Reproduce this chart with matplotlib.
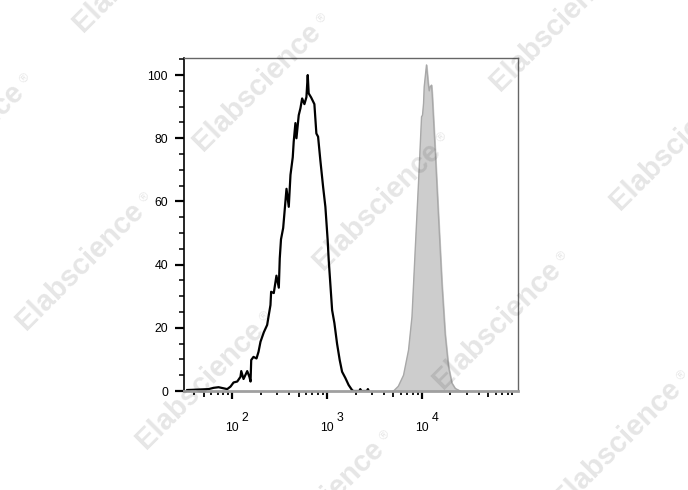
import numpy as np
import matplotlib
matplotlib.use("Agg")
import matplotlib.pyplot as plt
from matplotlib.ticker import FixedLocator, FixedFormatter, MultipleLocator
from matplotlib.transforms import offset_copy

plt.rcParams['font.family'] = ['Liberation Sans', 'DejaVu Sans']

# isotype / unstained control (black outline), x given as decades
black_log = [1.526, 1.751, 1.803, 1.856, 1.947, 1.982, 2.014, 2.053, 2.087, 2.095,
             2.119, 2.158, 2.182, 2.193, 2.200, 2.224, 2.256, 2.277, 2.298, 2.333,
             2.368, 2.385, 2.403, 2.410, 2.438, 2.466, 2.491, 2.501, 2.514, 2.537,
             2.572, 2.596, 2.614, 2.638, 2.648, 2.666, 2.677, 2.701, 2.719, 2.737,
             2.761, 2.782, 2.796, 2.806, 2.832, 2.866, 2.887, 2.905, 2.929, 2.958,
             2.982, 3.006, 3.017, 3.053, 3.077, 3.105, 3.133, 3.158, 3.193, 3.227,
             3.263, 3.277, 3.340, 3.350, 3.360, 3.420, 3.430, 3.440]
black_val = [0.3, 0.6, 1.0, 1.2, 0.6, 1.4, 2.7, 3.0, 4.5, 6.3,
             3.8, 6.3, 4.4, 3.0, 9.8, 10.8, 10.3, 12.4, 15.6, 18.6,
             20.9, 24.0, 27.2, 31.4, 31.0, 36.5, 32.7, 42.0, 48.0, 51.6,
             64.0, 58.3, 68.4, 74.0, 78.9, 84.8, 80.0, 87.3, 89.5, 92.6,
             90.8, 93.0, 100.0, 94.2, 92.9, 90.8, 81.5, 80.5, 73.0, 64.6,
             58.3, 47.8, 41.5, 25.6, 21.5, 15.0, 9.8, 6.1, 4.1, 1.9,
             0.3, 0.0, 0.0, 0.6, 0.0, 0.0, 0.6, 0.0]

# stained sample (grey filled)
gray_log = [3.701, 3.751, 3.806, 3.859, 3.895, 3.929, 3.964, 3.996, 4.006, 4.017,
            4.024, 4.048, 4.066, 4.077, 4.087, 4.101, 4.108, 4.140, 4.175, 4.211,
            4.245, 4.280, 4.316, 4.351, 4.403]
gray_val = [0.0, 1.5, 5.0, 13.0, 23.5, 44.6, 66.0, 86.8, 87.3, 91.0,
            96.3, 103.2, 97.4, 95.0, 96.3, 96.8, 94.0, 76.0, 55.0, 34.0,
            18.0, 7.7, 2.5, 0.8, 0.0]

x_major = [1e2, 1e3, 1e4]
x_exponents = ['2', '3', '4']
y_ticks = [0, 20, 40, 60, 80, 100]

W, H = 688, 490
fig = plt.figure(figsize=(W / 100, H / 100), dpi=100)
ax = fig.add_axes([184 / W, 1 - 391 / H, 334 / W, 333 / H])

# watermark lattice (pixel positions of text centres)
wm = dict(color='#000000', alpha=0.1, rotation=45, ha='center', va='center',
          rotation_mode='anchor', zorder=0)
for i in range(-3, 5):
    for j in range(-2, 4):
        cx = 257 + 120 * i + 297 * j
        cy = 87 + 119 * i - 60 * j
        if -120 < cx < W + 120 and -120 < cy < H + 120:
            fig.text(cx / W, 1 - cy / H, 'Elabscience', fontsize=21,
                     fontweight='bold', **wm)
            fig.text((cx + 65) / W, 1 - (cy - 68) / H, '®', fontsize=9, **wm)

ax.patch.set_alpha(0)
gx = 10 ** np.array(gray_log)
ax.fill_between(gx, 0, gray_val, color='#cdcdcd', zorder=2)
ax.plot(gx, gray_val, color='#a8a8a8', lw=1.0, zorder=3)
ax.plot(10 ** np.array(black_log), black_val, color='black', lw=1.6, zorder=4)

ax.set_xscale('log')
ax.set_xlim(31, 1.03e5)
ax.set_ylim(0, 105.4)

# x ticks: decades long, 5x10^n medium, others short
half = [50, 500, 5000, 50000]
ax.xaxis.set_major_locator(FixedLocator(x_major + half))
ax.xaxis.set_major_formatter(FixedFormatter([''] * 7))
minors = [m * 10 ** e for e in range(1, 5) for m in (2, 3, 4, 6, 7, 8, 9)]
ax.xaxis.set_minor_locator(FixedLocator(minors))
ax.xaxis.set_minor_formatter(FixedFormatter([''] * len(minors)))
ax.tick_params(axis='x', which='major', direction='out', length=6, width=1.6, color='black')
ax.tick_params(axis='x', which='minor', direction='out', length=3, width=1.3, color='black')
for t in ax.xaxis.get_major_ticks()[3:]:
    t.tick1line.set_markersize(4)
    t.tick1line.set_markeredgewidth(1.3)

# decade labels: "10" centred on the tick, exponent raised at full size
xt = ax.get_xaxis_transform()
base_tr = offset_copy(xt, fig=fig, x=0, y=-40, units='dots')
exp_tr = offset_copy(xt, fig=fig, x=9.5, y=-30, units='dots')
for xv, ex in zip(x_major, x_exponents):
    ax.text(xv, 0, '10', transform=base_tr, ha='center', va='baseline', fontsize=8.8)
    ax.text(xv, 0, ex, transform=exp_tr, ha='left', va='baseline', fontsize=8.8)

ax.yaxis.set_major_locator(FixedLocator(y_ticks))
ax.yaxis.set_minor_locator(MultipleLocator(5))
ax.tick_params(axis='y', which='major', direction='out', length=6.5, width=1.6,
               pad=5, labelsize=8.8)
ax.tick_params(axis='y', which='minor', direction='out', length=3.5, width=1.1)

ax.spines['left'].set_color('black')
ax.spines['left'].set_linewidth(1.2)
ax.spines['bottom'].set_color('#a0a0a0')
ax.spines['bottom'].set_linewidth(2.0)
ax.spines['bottom'].set_zorder(5)
for s in ('top', 'right'):
    ax.spines[s].set_color('#666666')
    ax.spines[s].set_linewidth(1.0)

fig.savefig('out.png', dpi=100)
